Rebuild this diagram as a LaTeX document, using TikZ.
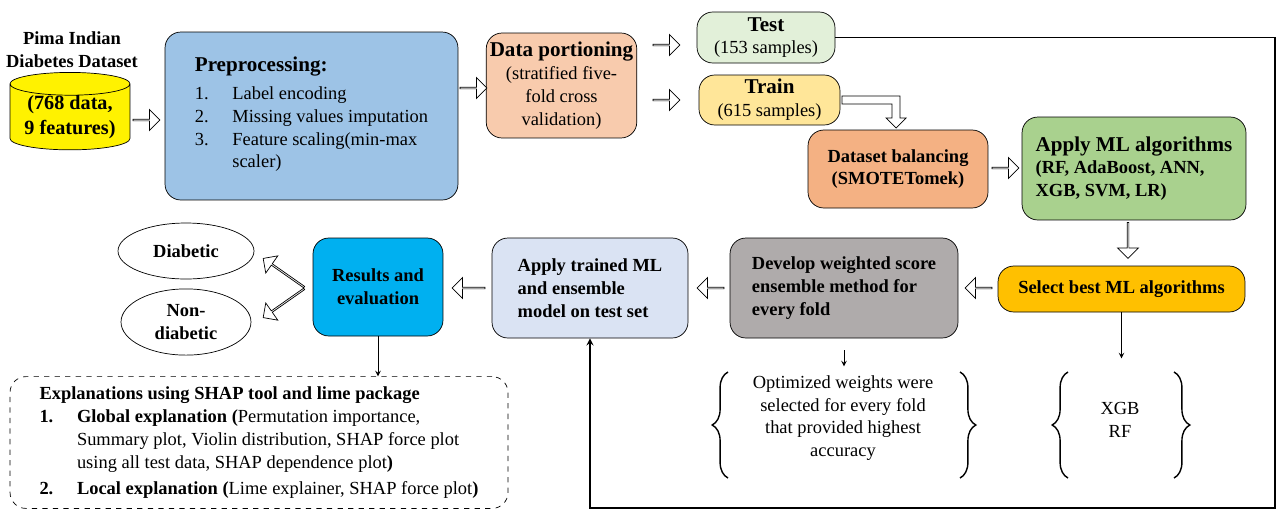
\documentclass[tikz,border=0pt]{standalone}
\usepackage{fontspec}
\setmainfont{Liberation Serif}
\usepackage{array}
\usetikzlibrary{positioning, shapes.geometric, shapes.arrows, decorations.pathreplacing, arrows}
\definecolor{cprep}{RGB}{157,195,230}
\definecolor{cport}{RGB}{248,203,173}
\definecolor{ctest}{RGB}{226,240,217}
\definecolor{ctrain}{RGB}{255,230,153}
\definecolor{cbal}{RGB}{244,177,131}
\definecolor{cml}{RGB}{169,209,142}
\definecolor{csel}{RGB}{255,192,0}
\definecolor{cdev}{RGB}{175,171,171}
\definecolor{cappl}{RGB}{218,227,243}
\definecolor{cres}{RGB}{0,176,240}
\tikzstyle{blk}=[draw, rounded corners=9pt, align=center, font=\fontsize{10.5}{13}\selectfont, inner sep=2pt]
\tikzstyle{hol}=[draw, fill=white, single arrow, minimum height=0.54cm, minimum width=0.42cm, single arrow head extend=0.08cm, inner sep=0pt]
\tikzstyle{brc}=[decorate, decoration={brace, amplitude=9pt}, thick]
\tikzset{>=stealth}
\newcommand{\hd}[1]{{\fontsize{12}{14}\selectfont\bfseries #1}}
\begin{document}
\begin{tikzpicture}[x=0.02cm, y=-0.02cm]
\useasboundingbox (0,0) rectangle (1280,525);
% input data
\node[draw, fill=yellow, cylinder, shape border rotate=90, aspect=0.25, minimum width=2.4cm, minimum height=1.4cm, align=center, font=\fontsize{11.5}{14}\selectfont\bfseries, inner sep=0pt] (cyl) at (70,117) {(768 data,\\ 9 features)};
\node[align=center, font=\fontsize{10.5}{13}\selectfont\bfseries] (ttl) at (72,50) {Pima Indian\\ Diabetes Dataset};
% main blocks
\node[blk, fill=cprep, minimum width=5.86cm, minimum height=3.36cm, align=left] (prep) at (311.5,116) {\hd{Preprocessing:}\\[3pt]
\begin{tabular}{@{}p{0.75cm}@{}l@{}}
1. & Label encoding\\
2. & Missing values imputation\\
3. & Feature scaling(min-max\\
 & scaler)
\end{tabular}};
\node[blk, fill=cport, minimum width=2.94cm, minimum height=2.1cm] (port) at (561.5,85.5) {\hd{Data portioning}\\(stratified five-\\fold cross\\validation)};
\node[blk, fill=ctest, minimum width=2.76cm, minimum height=1.02cm] (test) at (766,37.5) {\hd{Test}\\(153 samples)};
\node[blk, fill=ctrain, minimum width=2.82cm, minimum height=1.0cm] (train) at (769.5,100) {\hd{Train}\\(615 samples)};
\node[blk, fill=cbal, minimum width=3.6cm, minimum height=1.56cm] (bal) at (898,169) {\bfseries Dataset balancing\\ \bfseries (SMOTETomek)};
\node[blk, fill=cml, minimum width=4.48cm, minimum height=2.06cm, align=left] (ml) at (1134,168.5) {\hd{Apply ML algorithms}\\ \bfseries (RF, AdaBoost, ANN,\\ \bfseries XGB, SVM, LR)};
\node[blk, fill=csel, minimum width=4.94cm, minimum height=0.92cm] (sel) at (1121.5,289) {\bfseries Select best ML algorithms};
\node[blk, fill=cdev, minimum width=4.56cm, minimum height=2.0cm, align=left] (dev) at (844,288) {\bfseries Develop weighted score\\ \bfseries ensemble method for\\ \bfseries every fold};
\node[blk, fill=cappl, minimum width=3.92cm, minimum height=2.0cm, align=left] (appl) at (590,288) {\bfseries Apply trained ML\\ \bfseries and ensemble\\ \bfseries model on test set};
\node[blk, fill=cres, minimum width=2.6cm, minimum height=1.96cm] (res) at (378,287) {\bfseries Results and\\ \bfseries evaluation};
\node[draw, ellipse, minimum width=2.72cm, minimum height=1.12cm, font=\fontsize{10.5}{13}\selectfont\bfseries] (diab) at (186,251) {Diabetic};
\node[draw, ellipse, minimum width=2.6cm, minimum height=1.28cm, align=center, font=\fontsize{10.5}{13}\selectfont\bfseries] (nond) at (186,322) {Non-\\diabetic};
\node[draw, dashed, rounded corners=9pt, minimum width=9.96cm, minimum height=2.62cm, align=left, font=\fontsize{10.5}{13}\selectfont, inner sep=4pt] (expl) at (259,442.5) {\begin{tabular}{@{}p{0.75cm}@{}l@{}}
\multicolumn{2}{@{}l}{\bfseries Explanations using SHAP tool and lime package}\\
\bfseries 1. & \textbf{Global explanation (}Permutation importance,\\
 & Summary plot, Violin distribution, SHAP force plot\\
 & using all test data, SHAP dependence plot\textbf{)}\\[2pt]
\bfseries 2. & \textbf{Local explanation (}Lime explainer, SHAP force plot\textbf{)}
\end{tabular}};
% brace notes
\node[align=center, font=\fontsize{10.5}{13}\selectfont] (wts) at (843,418) {Optimized weights were\\selected for every fold\\that provided highest\\accuracy};
\node[align=center, font=\fontsize{10.5}{13}\selectfont] (best) at (1120,420) {XGB\\RF};
\coordinate (wl) at (728,372); \coordinate (wr) at (960,372);
\coordinate (bl) at (1068,372); \coordinate (br) at (1174,372);
\draw[brc] (wl |- 0,478) -- (wl);
\draw[brc] (wr) -- (wr |- 0,478);
\draw[brc] (bl |- 0,478) -- (bl);
\draw[brc] (br) -- (br |- 0,478);
% hollow arrows
\node[hol] (h1) at (146,120) {};
\node[hol] (h2) at (473,88) {};
\node[hol] (h3) at (666,45) {};
\node[hol] (h4) at (666,100) {};
\node[hol] (h5) at (1005,168) {};
\node[hol, rotate=-90, minimum height=0.72cm] (h6) at (1128,240) {};
\node[hol, rotate=180] (h7) at (979,288) {};
\node[hol, rotate=180] (h8) at (711,288) {};
\node[hol, rotate=180, minimum height=0.66cm] (h9) at (469,288) {};
\node[hol, rotate=145, minimum height=1.0cm] (h10) at (284,273) {};
\node[hol, rotate=215, minimum height=1.0cm] (h11) at (284,303) {};
\draw[fill=white] (842,96) -- (900,96) -- (900,118) -- (906,118) -- (896,128) -- (886,118) -- (892,118) -- (892,104) -- (842,104) -- cycle;
% thin arrows
\draw[->] (res.south) -- (res.south |- expl.north);
\draw[->] (dev.south) ++(0,12) coordinate (d1) -- ++(0,16);
\draw[->] (sel.south) -- ++(0,46);
\coordinate (rt) at (1275,37.5);
\coordinate (rb) at (1275,508);
\draw[->, thick] (test.east) -- (rt) -- (rb) -| (appl.south);
\end{tikzpicture}
\end{document}
